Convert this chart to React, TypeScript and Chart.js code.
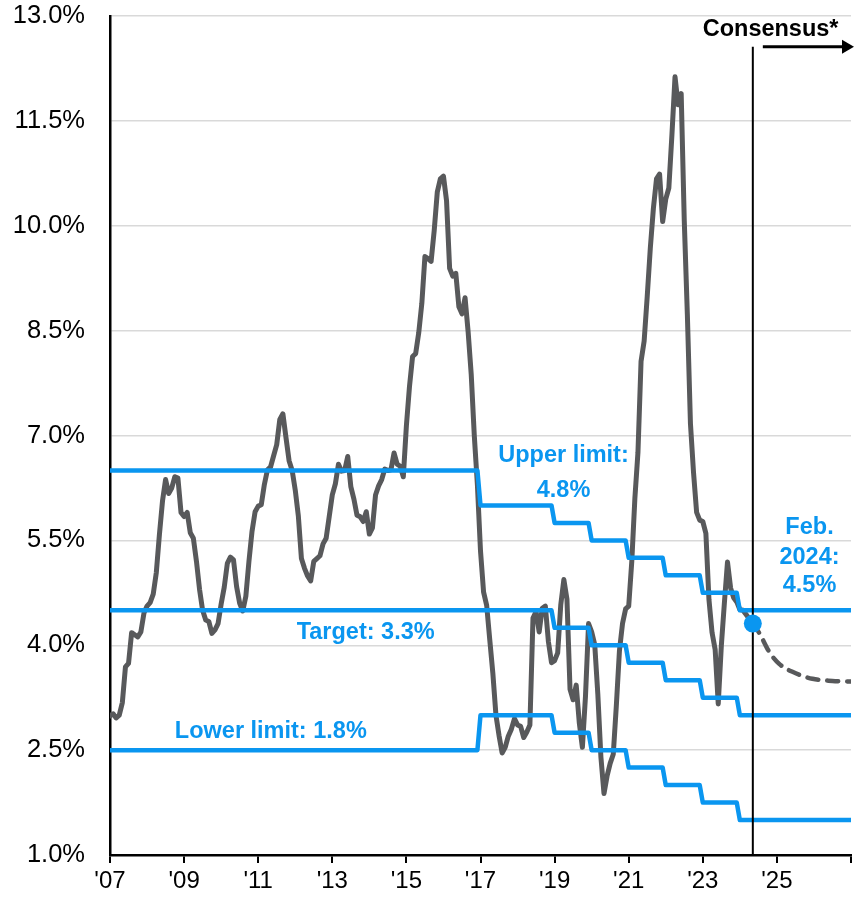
import React, { useEffect, useRef } from 'react';
import { Chart, registerables } from 'chart.js';

Chart.register(...registerables);

// ---------- DATA ----------
const START_YEAR = 2007;
// Monthly 12-month inflation, Jan 2007 .. Feb 2024
const inflation2007 = [2.99, 3.02, 2.96, 3.0, 3.18, 3.69, 3.74, 4.18, 4.15, 4.12, 4.19, 4.46];
const inflation2008 = [4.56, 4.61, 4.73, 5.04, 5.58, 6.06, 6.37, 6.17, 6.25, 6.41, 6.39, 5.9];
const inflation2009 = [5.84, 5.9, 5.61, 5.53, 5.2, 4.8, 4.5, 4.36, 4.34, 4.17, 4.22, 4.31];
const inflation2010 = [4.59, 4.83, 5.17, 5.26, 5.22, 4.84, 4.6, 4.49, 4.7, 5.2, 5.63, 5.91];
const inflation2011 = [5.99, 6.01, 6.3, 6.51, 6.55, 6.71, 6.87, 7.23, 7.31, 6.97, 6.64, 6.5];
const inflation2012 = [6.22, 5.85, 5.24, 5.1, 4.99, 4.92, 5.2, 5.24, 5.28, 5.45, 5.53, 5.84];
const inflation2013 = [6.15, 6.31, 6.59, 6.49, 6.5, 6.7, 6.27, 6.09, 5.86, 5.84, 5.77, 5.91];
const inflation2014 = [5.59, 5.68, 6.15, 6.28, 6.37, 6.52, 6.5, 6.51, 6.75, 6.59, 6.56, 6.41];
const inflation2015 = [7.14, 7.7, 8.13, 8.17, 8.47, 8.89, 9.56, 9.53, 9.49, 9.93, 10.48, 10.67];
const inflation2016 = [10.71, 10.36, 9.39, 9.28, 9.32, 8.84, 8.74, 8.97, 8.48, 7.87, 6.99, 6.29];
const inflation2017 = [5.35, 4.76, 4.57, 4.08, 3.6, 3.0, 2.71, 2.46, 2.54, 2.7, 2.8, 2.95];
const inflation2018 = [2.86, 2.84, 2.68, 2.76, 2.86, 4.39, 4.48, 4.19, 4.53, 4.56, 4.05, 3.75];
const inflation2019 = [3.78, 3.89, 4.58, 4.94, 4.66, 3.37, 3.22, 3.43, 2.89, 2.54, 3.27, 4.31];
const inflation2020 = [4.19, 4.01, 3.3, 2.4, 1.88, 2.13, 2.31, 2.44, 3.14, 3.92, 4.31, 4.52];
const inflation2021 = [4.56, 5.2, 6.1, 6.76, 8.06, 8.35, 8.99, 9.68, 10.25, 10.67, 10.74, 10.06];
const inflation2022 = [10.38, 10.54, 11.3, 12.13, 11.73, 11.89, 10.07, 8.73, 7.17, 6.47, 5.9, 5.79];
const inflation2023 = [5.77, 5.6, 4.65, 4.18, 3.94, 3.16, 3.99, 4.61, 5.19, 4.82, 4.68, 4.62];
const inflation2024 = [4.51, 4.5];

// Latest highlighted reading (Feb. 2024) and consensus path
const latestX = 2024.35;
const latestY = 4.31;
const consensusX = [2024.35, 2024.53, 2024.8, 2025.07, 2025.42, 2025.96, 2026.5, 2027];
const consensusY = [4.31, 4.17, 3.9, 3.73, 3.62, 3.52, 3.49, 3.48];

// Inflation target band, by calendar year
const limitYears = [2007, 2008, 2009, 2010, 2011, 2012, 2013, 2014, 2015, 2016, 2017, 2018, 2019, 2020, 2021, 2022, 2023, 2024, 2025, 2026];
const upperLimit = [6.5, 6.5, 6.5, 6.5, 6.5, 6.5, 6.5, 6.5, 6.5, 6.5, 6.0, 6.0, 5.75, 5.5, 5.25, 5.0, 4.75, 4.5, 4.5, 4.5];
const targetRate = [4.5, 4.5, 4.5, 4.5, 4.5, 4.5, 4.5, 4.5, 4.5, 4.5, 4.5, 4.5, 4.25, 4.0, 3.75, 3.5, 3.25, 3.0, 3.0, 3.0];
const lowerLimit = [2.5, 2.5, 2.5, 2.5, 2.5, 2.5, 2.5, 2.5, 2.5, 2.5, 3.0, 3.0, 2.75, 2.5, 2.25, 2.0, 1.75, 1.5, 1.5, 1.5];

const xTickYears = [2007, 2009, 2011, 2013, 2015, 2017, 2019, 2021, 2023, 2025, 2027];
const xMin = 2007;
const xMax = 2027;
const yMin = 1;
const yMax = 13;
const yStep = 1.5;

// Text annotations (anchored in data units)
const annotations = [
  { text: 'Upper limit:', x: 2019.24, y: 6.72, color: '#0A96F0' },
  { text: '4.8%', x: 2019.24, y: 6.21, color: '#0A96F0' },
  { text: 'Target: 3.3%', x: 2013.9, y: 4.175, color: '#0A96F0' },
  { text: 'Lower limit: 1.8%', x: 2011.34, y: 2.76, color: '#0A96F0' },
  { text: 'Feb.', x: 2025.88, y: 5.68, color: '#0A96F0' },
  { text: '2024:', x: 2025.88, y: 5.25, color: '#0A96F0' },
  { text: '4.5%', x: 2025.88, y: 4.85, color: '#0A96F0' },
  { text: 'Consensus*', x: 2024.83, y: 12.8, color: '#000000' },
];
const arrowStartX = 2024.62;
const arrowY = 12.56;

// ---------- BUILD ----------
const allInflation = [
  ...inflation2007, ...inflation2008, ...inflation2009, ...inflation2010, ...inflation2011,
  ...inflation2012, ...inflation2013, ...inflation2014, ...inflation2015, ...inflation2016,
  ...inflation2017, ...inflation2018, ...inflation2019, ...inflation2020, ...inflation2021,
  ...inflation2022, ...inflation2023, ...inflation2024,
];
const inflationPoints = allInflation.map((v, i) => ({ x: START_YEAR + i / 12, y: v }));
inflationPoints.push({ x: latestX, y: latestY });

function stepPoints(vals: number[]) {
  const pts: { x: number; y: number }[] = [];
  limitYears.forEach((yr, i) => {
    pts.push({ x: yr, y: vals[i] });
    const end = i === limitYears.length - 1 ? yr + 1 : yr + 11 / 12;
    pts.push({ x: end, y: vals[i] });
  });
  return pts;
}

const BLUE = '#0A96F0';
const GREY = '#58595B';
const FONT = '"Liberation Sans", Arial, Helvetica, sans-serif';

export default function App() {
  const ref = useRef<HTMLCanvasElement | null>(null);

  useEffect(() => {
    if (!ref.current) return;
    const DOT_INDEX = 0;

    const overlay = {
      id: 'overlay',
      beforeDatasetDraw(chart: any, args: any) {
        if (args.index !== DOT_INDEX) return;
        const { ctx, scales } = chart;
        const xs = scales.x;
        const ys = scales.y;
        const vx = xs.getPixelForValue(latestX);
        ctx.save();
        ctx.strokeStyle = '#000';
        ctx.lineWidth = 2;
        ctx.beginPath();
        ctx.moveTo(vx, ys.getPixelForValue(arrowY));
        ctx.lineTo(vx, ys.getPixelForValue(yMin));
        ctx.stroke();
        ctx.restore();
      },
      afterDatasetsDraw(chart: any) {
        const { ctx, scales } = chart;
        const xs = scales.x;
        const ys = scales.y;
        ctx.save();
        ctx.font = `bold 23.5px ${FONT}`;
        ctx.textAlign = 'center';
        ctx.textBaseline = 'middle';
        annotations.forEach((a) => {
          ctx.fillStyle = a.color;
          ctx.fillText(a.text, xs.getPixelForValue(a.x), ys.getPixelForValue(a.y));
        });
        // arrow
        const ax0 = xs.getPixelForValue(arrowStartX);
        const ax1 = xs.getPixelForValue(xMax) + 3;
        const ay = ys.getPixelForValue(arrowY);
        ctx.strokeStyle = '#000';
        ctx.fillStyle = '#000';
        ctx.lineWidth = 3;
        ctx.beginPath();
        ctx.moveTo(ax0, ay);
        ctx.lineTo(ax1 - 10, ay);
        ctx.stroke();
        ctx.beginPath();
        ctx.moveTo(ax1, ay);
        ctx.lineTo(ax1 - 12, ay - 7);
        ctx.lineTo(ax1 - 12, ay + 7);
        ctx.closePath();
        ctx.fill();
        ctx.restore();
      },
    };

    const chart = new Chart(ref.current, {
      type: 'line',
      data: {
        datasets: [
          {
            label: 'Latest',
            data: [{ x: latestX, y: latestY }],
            showLine: false,
            pointRadius: 9,
            pointBackgroundColor: BLUE,
            pointBorderColor: BLUE,
            pointBorderWidth: 0,
            order: 0,
          },
          {
            label: 'Upper limit',
            data: stepPoints(upperLimit),
            borderColor: BLUE,
            borderWidth: 4.5,
            pointRadius: 0,
            borderJoinStyle: 'round',
            order: 1,
          },
          {
            label: 'Target',
            data: stepPoints(targetRate),
            borderColor: BLUE,
            borderWidth: 4.5,
            pointRadius: 0,
            borderJoinStyle: 'round',
            order: 1,
          },
          {
            label: 'Lower limit',
            data: stepPoints(lowerLimit),
            borderColor: BLUE,
            borderWidth: 4.5,
            pointRadius: 0,
            borderJoinStyle: 'round',
            order: 1,
          },
          {
            label: 'Inflation',
            data: inflationPoints,
            borderColor: GREY,
            borderWidth: 5,
            pointRadius: 0,
            borderJoinStyle: 'round',
            borderCapStyle: 'round',
            order: 2,
          },
          {
            label: 'Consensus',
            data: consensusX.map((x, i) => ({ x, y: consensusY[i] })),
            borderColor: GREY,
            borderWidth: 4.5,
            borderDash: [11, 9],
            borderCapStyle: 'round',
            pointRadius: 0,
            cubicInterpolationMode: 'monotone',
            order: 2,
          },
        ],
      },
      options: {
        animation: false,
        responsive: false,
        devicePixelRatio: 1,
        layout: { autoPadding: false, padding: { top: 16, right: 4, left: 0, bottom: 0 } },
        plugins: {
          legend: { display: false },
          tooltip: { enabled: false },
        },
        scales: {
          x: {
            type: 'linear',
            min: xMin,
            max: xMax,
            afterBuildTicks: (scale: any) => {
              scale.ticks = xTickYears.map((v) => ({ value: v }));
            },
            afterFit: (scale: any) => {
              scale.height = 47;
              scale.paddingLeft = 0;
              scale.paddingRight = 0;
              scale.paddingTop = 0;
              scale.paddingBottom = 0;
            },
            ticks: {
              autoSkip: false,
              maxRotation: 0,
              padding: 4,
              color: '#000',
              font: { family: FONT, size: 24 },
              callback: (v: any) => (Number(v) === xMax ? '' : "'" + String(v).slice(2)),
            },
            grid: {
              display: true,
              drawOnChartArea: false,
              drawTicks: true,
              tickLength: 8,
              color: '#000',
              lineWidth: 2,
            },
            border: { display: true, color: '#000', width: 2.5 },
          },
          y: {
            type: 'linear',
            min: yMin,
            max: yMax,
            afterFit: (scale: any) => {
              scale.width = 110;
              scale.paddingLeft = 0;
              scale.paddingRight = 0;
              scale.paddingTop = 0;
              scale.paddingBottom = 0;
            },
            ticks: {
              stepSize: yStep,
              padding: 25,
              color: '#000',
              font: { family: FONT, size: 25.5 },
              callback: (v: any) => Number(v).toFixed(1) + '%',
            },
            grid: {
              color: '#D9D9D9',
              lineWidth: 1.5,
              drawTicks: false,
            },
            border: { display: true, color: '#000', width: 2.5 },
          },
        },
      },
      plugins: [overlay],
    } as any);

    return () => chart.destroy();
  }, []);

  return (
    <div style={{ position: 'absolute', left: 0, top: 0, width: 855, height: 902, background: '#fff' }}>
      <canvas ref={ref} width={855} height={902} style={{ width: 855, height: 902 }} />
    </div>
  );
}
